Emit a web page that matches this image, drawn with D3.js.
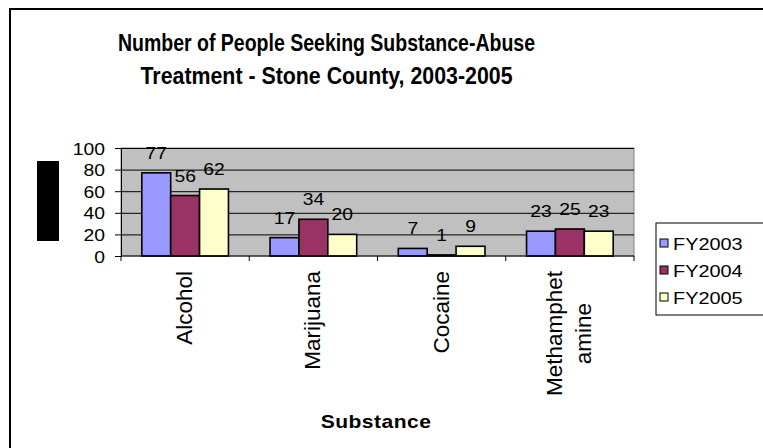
<!DOCTYPE html>
<html>
<head>
<meta charset="utf-8">
<title>Substance-Abuse Treatment - Stone County</title>
<script src="https://d3js.org/d3.v7.min.js"></script>
<style>
  body { margin: 0; background: #fff; }
  text { font-family: Arial, "Liberation Sans", sans-serif; fill: #000; }
</style>
</head>
<body>
<svg width="763" height="448"></svg>
<script>
// chart data
const categories = ['Alcohol', 'Marijuana', 'Cocaine', 'Methamphetamine'];
const categoryLines = [['Alcohol'], ['Marijuana'], ['Cocaine'], ['Methamphet', 'amine']];
const series = ['FY2003', 'FY2004', 'FY2005'];
const fy2003 = [77, 17, 7, 23];
const fy2004 = [56, 34, 1, 25];
const fy2005 = [62, 20, 9, 23];
const yTicks = [0, 20, 40, 60, 80, 100];
const colors = ['#9999FF', '#993366', '#FFFFCC'];

const values = [fy2003, fy2004, fy2005];
const rows = categories.map((c, i) => ({
    cat: c,
    vals: series.map((s, j) => ({ s: s, v: values[j][i] }))
}));

const svg = d3.select('svg');
const stretch = 1.17; // small text in the picture is a bit wider than it is tall

// outer frame (runs off the right and bottom)
svg.append('rect')
    .attr('x', 10).attr('y', 9)
    .attr('width', 800).attr('height', 500)
    .attr('fill', 'none').attr('stroke', '#000').attr('stroke-width', 2);

// title - the two lines are squeezed to the widths they have in the picture
const titleLines = ['Number of People Seeking Substance-Abuse', 'Treatment - Stone County, 2003-2005'];
const titleWidths = [417, 372];
svg.selectAll('.title').data(titleLines)
    .enter().append('text')
    .attr('class', 'title')
    .attr('x', 326.5)
    .attr('y', (d, i) => 51 + i * 33)
    .attr('text-anchor', 'middle')
    .attr('textLength', (d, i) => titleWidths[i])
    .attr('lengthAdjust', 'spacingAndGlyphs')
    .style('font-size', '23px')
    .style('font-weight', 'bold')
    .text(d => d);

// plot area
const plot = { left: 121, right: 634, top: 148, bottom: 256 };

const x0 = d3.scaleBand()
    .domain(categories)
    .range([plot.left, plot.right])
    .padding(0);

const x1 = d3.scaleBand()
    .domain(series)
    .range([0, x0.bandwidth()])
    .paddingInner(0)
    .paddingOuter(0.72);

const y = d3.scaleLinear()
    .domain([0, 100])
    .range([plot.bottom, plot.top]);

const color = d3.scaleOrdinal().domain(series).range(colors);

svg.append('rect')
    .attr('x', plot.left).attr('y', plot.top)
    .attr('width', plot.right - plot.left).attr('height', plot.bottom - plot.top)
    .attr('fill', '#C0C0C0')
    .attr('stroke', '#808080');

// gridlines
svg.append('g')
    .selectAll('line').data(yTicks.filter(t => t > 0))
    .enter().append('line')
    .attr('x1', plot.left).attr('x2', plot.right)
    .attr('y1', d => y(d) + 0.5).attr('y2', d => y(d) + 0.5)
    .attr('stroke', '#000');

// bars
const groups = svg.append('g').selectAll('g').data(rows)
    .enter().append('g')
    .attr('transform', d => `translate(${x0(d.cat)},0)`);

groups.selectAll('rect').data(d => d.vals)
    .enter().append('rect')
    .attr('x', d => x1(d.s))
    .attr('y', d => y(d.v))
    .attr('width', x1.bandwidth())
    .attr('height', d => y(0) - y(d.v))
    .attr('fill', d => color(d.s))
    .attr('stroke', '#000')
    .attr('stroke-width', 1.6);

// value labels
groups.selectAll('text').data(d => d.vals)
    .enter().append('text')
    .attr('transform', d => `translate(${x1(d.s) + x1.bandwidth() / 2},${y(d.v) - 14}) scale(${stretch},1)`)
    .attr('text-anchor', 'middle')
    .style('font-size', '16.5px')
    .text(d => d.v);

// y axis
const yAxis = d3.axisLeft(y)
    .tickValues(yTicks)
    .tickSize(6)
    .tickPadding(0)
    .tickFormat(d3.format('d'));

const yAxisG = svg.append('g')
    .attr('transform', `translate(${plot.left},0)`)
    .call(yAxis);
yAxisG.select('.domain').attr('stroke', '#000');
yAxisG.selectAll('.tick line').attr('stroke', '#000');
yAxisG.selectAll('.tick text')
    .attr('x', null).attr('dy', null)
    .attr('transform', `translate(-16,6) scale(${stretch},1)`)
    .attr('text-anchor', 'end')
    .style('font-size', '16.5px')
    .style('font-family', 'Arial, "Liberation Sans", sans-serif');

// x axis: ticks on category boundaries, labels drawn separately
const xAxisG = svg.append('g');
xAxisG.append('line')
    .attr('x1', plot.left).attr('x2', plot.right)
    .attr('y1', plot.bottom).attr('y2', plot.bottom)
    .attr('stroke', '#000');
const bounds = categories.map(c => x0(c)).concat([plot.right]);
xAxisG.selectAll('.xtick').data(bounds)
    .enter().append('line')
    .attr('class', 'xtick')
    .attr('x1', d => d).attr('x2', d => d)
    .attr('y1', plot.bottom).attr('y2', plot.bottom + 5)
    .attr('stroke', '#000');

// rotated category labels, block top at y = 271
const labelTop = 271;
const lineGap = 29;
const catLabels = svg.append('g').selectAll('g').data(categoryLines)
    .enter().append('g');

catLabels.each(function (lines, i) {
    const g = d3.select(this);
    const cx = x0(categories[i]) + x0.bandwidth() / 2;
    const t = g.selectAll('text').data(lines)
        .enter().append('text')
        .attr('text-anchor', 'middle')
        .style('font-size', '22.5px')
        .text(d => d);
    const maxLen = d3.max(t.nodes(), n => n.getComputedTextLength());
    t.attr('transform', (d, k) => {
        const xOff = (k - (lines.length - 1) / 2) * lineGap;
        return `translate(${cx + xOff + 7},${labelTop + maxLen / 2}) rotate(-90)`;
    });
});

// axis title
svg.append('text')
    .attr('transform', `translate(376,428) scale(${stretch},1)`)
    .attr('text-anchor', 'middle')
    .style('font-size', '18px')
    .style('font-weight', 'bold')
    .style('letter-spacing', '0.4px')
    .text('Substance');

// y title box (shows as a solid black block in the picture)
svg.append('rect')
    .attr('x', 37).attr('y', 161)
    .attr('width', 22).attr('height', 80)
    .attr('fill', '#000');

// legend
const legend = svg.append('g');
legend.append('rect')
    .attr('x', 656).attr('y', 223)
    .attr('width', 120).attr('height', 92)
    .attr('fill', '#fff').attr('stroke', '#000');

const items = legend.selectAll('.item').data(series)
    .enter().append('g')
    .attr('class', 'item')
    .attr('transform', (d, i) => `translate(0,${243 + i * 27})`);

items.append('rect')
    .attr('x', 660).attr('y', -4)
    .attr('width', 8).attr('height', 8)
    .attr('fill', d => color(d))
    .attr('stroke', '#000');

items.append('text')
    .attr('transform', `translate(673,6.5) scale(${stretch},1)`)
    .style('font-size', '17px')
    .text(d => d);
</script>
</body>
</html>
